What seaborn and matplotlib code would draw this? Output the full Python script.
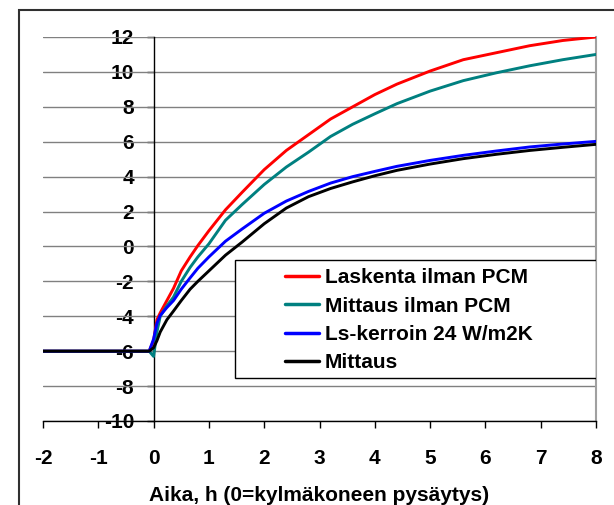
import pandas as pd
import seaborn as sns
import matplotlib.pyplot as plt
from matplotlib.patches import Rectangle

# Time axis (h) and temperatures
time_h = [-2, -0.08, 0, 0.06, 0.12, 0.24, 0.36, 0.5, 0.66, 0.8, 1.0, 1.3, 1.6,
          2.0, 2.4, 2.8, 3.2, 3.6, 4.0, 4.4, 5.0, 5.6, 6.2, 6.8, 7.4, 8.0]

laskenta = [-6, -6, -5.4, -4.2, -3.8, -3.1, -2.4, -1.4, -0.6, 0.05, 0.9, 2.1, 3.1,
            4.4, 5.5, 6.4, 7.3, 8.0, 8.7, 9.3, 10.05, 10.7, 11.1, 11.5, 11.8, 12.0]
mittaus_ilman = [-6, -6, -6.3, -4.9, -4.0, -3.4, -2.9, -2.0, -1.2, -0.6, 0.15, 1.5, 2.4,
                 3.55, 4.55, 5.4, 6.3, 7.0, 7.6, 8.18, 8.9, 9.5, 9.95, 10.35, 10.7, 11.0]
ls_kerroin = [-6, -6, -5.3, -4.4, -3.95, -3.5, -3.1, -2.45, -1.8, -1.25, -0.6, 0.3, 1.0,
              1.9, 2.6, 3.15, 3.63, 4.0, 4.3, 4.59, 4.93, 5.22, 5.47, 5.7, 5.87, 6.02]
mittaus = [-6, -6, -5.8, -5.4, -4.9, -4.2, -3.7, -3.1, -2.45, -2.0, -1.4, -0.5, 0.25,
           1.3, 2.2, 2.85, 3.32, 3.7, 4.05, 4.36, 4.72, 5.03, 5.28, 5.5, 5.68, 5.85]

series_names = ["Laskenta ilman PCM", "Mittaus ilman PCM", "Ls-kerroin 24 W/m2K", "Mittaus"]
series_values = [laskenta, mittaus_ilman, ls_kerroin, mittaus]
colors = ["#FF0000", "#008080", "#0000FF", "#000000"]

x_ticks = list(range(-2, 9))
y_ticks = list(range(-10, 13, 2))

df = pd.concat([pd.DataFrame({"t": time_h, "T": v, "series": n})
                for n, v in zip(series_names, series_values)], ignore_index=True)

sns.set_theme(style="white")
plt.rcParams["font.family"] = ["Liberation Sans", "DejaVu Sans"]
plt.rcParams["font.weight"] = "bold"
plt.rcParams["text.color"] = "black"
plt.rcParams["xtick.color"] = "black"
plt.rcParams["ytick.color"] = "black"
plt.rcParams["axes.labelcolor"] = "black"
plt.rcParams["axes.unicode_minus"] = False

FS = 15

fig = plt.figure(figsize=(6.14, 5.05), dpi=100)
W, H = 614, 505
ax = fig.add_axes([43 / W, (H - 421) / H, 553 / W, 384 / H])

#Move the y axis to x=0 first (this resets the ticks)
ax.spines["left"].set_position(("data", 0))

#Gridlines first so the curves lie on top
for y in y_ticks:
    ax.axhline(y, color="#808080", lw=1.0, zorder=1)

sns.lineplot(data=df, x="t", y="T", hue="series", hue_order=series_names,
             palette=dict(zip(series_names, colors)), linewidth=2.1,
             sort=False, legend=False, ax=ax, zorder=3)

ax.set_xlim(-2, 8)
ax.set_ylim(-10, 12)
ax.set_xticks(x_ticks)
ax.set_yticks(y_ticks)

ax.spines["left"].set_color("black")
ax.spines["left"].set_linewidth(1.0)
ax.spines["left"].set_zorder(2)
ax.spines["bottom"].set_color("black")
ax.spines["bottom"].set_linewidth(1.0)
ax.spines["right"].set_color("#A0A0A0")
ax.spines["right"].set_linewidth(1.5)
ax.spines["top"].set_visible(False)

ax.tick_params(axis="y", direction="out", length=5, width=1, color="black",
               pad=9, left=True, labelsize=FS)
ax.tick_params(axis="x", direction="out", length=5, width=1, color="black",
               pad=15, bottom=True, labelsize=FS)
for lab in ax.get_xticklabels() + ax.get_yticklabels():
    lab.set_fontweight("bold")

ax.set_xlabel("Aika, h (0=kylmäkoneen pysäytys)", fontsize=FS, fontweight="bold", labelpad=13)
ax.set_ylabel("")

#Legend box
ax.add_patch(Rectangle((0.347, 0.112), 0.653, 0.307, transform=ax.transAxes,
                       facecolor="white", edgecolor="black", lw=1.0, zorder=4))
handles = [plt.Line2D([], [], color=c, lw=2.5) for c in colors]
ax.legend(handles, series_names, loc="upper left", bbox_to_anchor=(0.438, 0.398),
          frameon=False, handlelength=1.6, handletextpad=0.3,
          labelspacing=0.45, borderpad=0, borderaxespad=0, prop={"weight": "bold", "size": FS})
ax.get_legend().set_zorder(5)

#Outer chart frame
fig.patches.append(Rectangle((19 / W, -0.1), 1.2, (H - 10) / H + 0.1, transform=fig.transFigure,
                             fill=False, edgecolor="#303030", lw=1.5, clip_on=False))

fig.savefig("out.png", dpi=100)
